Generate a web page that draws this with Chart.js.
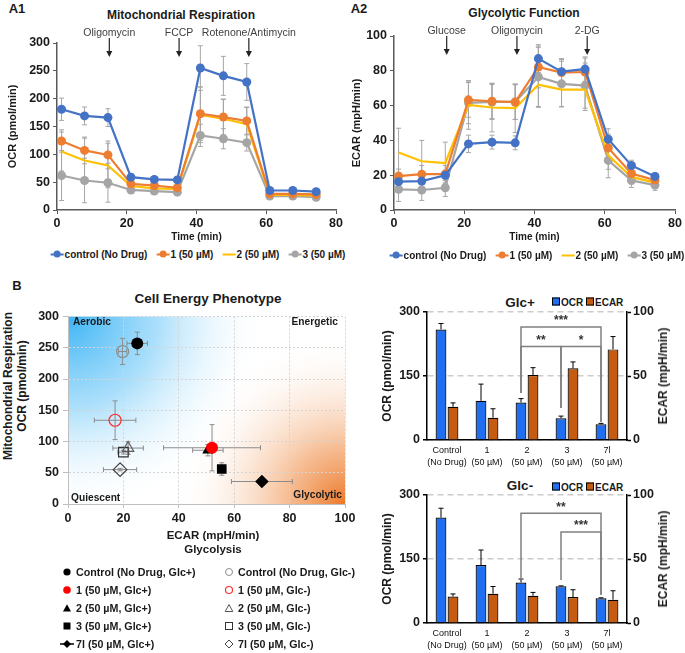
<!DOCTYPE html>
<html>
<head>
<meta charset="utf-8">
<script src="https://cdn.jsdelivr.net/npm/chart.js@4.4.1/dist/chart.umd.min.js"></script>
<style>
  body { margin: 0; background: #fff; }
  #fig { position: relative; width: 685px; height: 653px; overflow: hidden;
         font-family: "Liberation Sans", Arial, sans-serif; color: #1a1a1a; }
  .box { position: absolute; }
  .t { position: absolute; white-space: nowrap; transform: translate(-50%, -50%); font-weight: bold; }
  .tl { position: absolute; white-space: nowrap; transform: translate(0, -50%); font-weight: bold; }
  .tr { position: absolute; white-space: nowrap; transform: translate(-100%, -50%); font-weight: bold; }
  .rot { position: absolute; white-space: nowrap; transform: translate(-50%, -50%) rotate(-90deg);
         font-weight: bold; text-align: center; }
  .lgA { position: absolute; transform: translate(-50%, -50%); display: flex; gap: 9px;
         font-weight: bold; font-size: 10px; white-space: nowrap; align-items: center; }
  .lgA .mk { display: inline-block; width: 13px; height: 7px; position: relative; margin-right: 1px; }
  .lgA .mk::before { content: ''; position: absolute; left: 0; right: 0; top: 2.5px; height: 2px; background: var(--c); }
  .lgA .mk::after { content: ''; position: absolute; left: 3px; top: 0; width: 7px; height: 7px;
                    border-radius: 50%; background: var(--c); }
  .lgA .mk.nodot::after { display: none; }
  .lgB { position: absolute; font-weight: bold; font-size: 10.7px; white-space: nowrap; }
  .lgB div { height: 18px; line-height: 18px; display: flex; align-items: center; }
  .lgB svg { width: 14px; height: 10px; margin-right: 2px; flex: none; }
  .lgC { position: absolute; transform: translate(0, -50%); font-weight: bold; font-size: 10px; white-space: nowrap; }
  .lgC .sq { display: inline-block; width: 6px; height: 6px; border: 1px solid #000; margin-right: 1px; vertical-align: 0px; }
</style>
</head>
<body>
<div id="fig">
  <!-- panel A1 -->
  <div class="t" style="left:17px;top:8px;font-size:13px">A1</div>
  <div class="t" style="left:181px;top:15px;font-size:12px">Mitochondrial Respiration</div>
  <div class="box" style="left:0;top:0"><canvas id="a1" width="345" height="246"></canvas></div>
  <div class="lgA" style="left:198px;top:254px">
    <span><span class="mk" style="--c:#4472C4"></span>control (No Drug)</span>
    <span><span class="mk" style="--c:#ED7D31"></span>1 (50 µM)</span>
    <span><span class="mk nodot" style="--c:#FFC000"></span>2 (50 µM)</span>
    <span><span class="mk" style="--c:#A5A5A5"></span>3 (50 µM)</span>
  </div>

  <!-- panel A2 -->
  <div class="t" style="left:359px;top:8px;font-size:13px">A2</div>
  <div class="t" style="left:524px;top:13px;font-size:12px">Glycolytic Function</div>
  <div class="box" style="left:340px;top:0"><canvas id="a2" width="345" height="246"></canvas></div>
  <div class="lgA" style="left:537px;top:255px">
    <span><span class="mk" style="--c:#4472C4"></span>control (No Drug)</span>
    <span><span class="mk" style="--c:#ED7D31"></span>1 (50 µM)</span>
    <span><span class="mk nodot" style="--c:#FFC000"></span>2 (50 µM)</span>
    <span><span class="mk" style="--c:#A5A5A5"></span>3 (50 µM)</span>
  </div>

  <!-- panel B -->
  <div class="t" style="left:17px;top:285px;font-size:13px">B</div>
  <div class="t" style="left:208px;top:298px;font-size:13.5px">Cell Energy Phenotype</div>
  <div class="rot" style="left:15px;top:386px;font-size:12px;line-height:14px">Mitochondrial Respiration<br>OCR (pmol/min)</div>
  <div class="box" style="left:0;top:305px"><canvas id="pheno" width="360" height="221"></canvas></div>
  <div class="tl" style="left:73px;top:321px;font-size:10.2px">Aerobic</div>
  <div class="tr" style="left:338px;top:321px;font-size:10.2px">Energetic</div>
  <div class="tl" style="left:71px;top:497px;font-size:10.2px">Quiescent</div>
  <div class="tr" style="left:342px;top:494px;font-size:10.2px">Glycolytic</div>
  <div class="t" style="left:213px;top:535px;font-size:11.5px">ECAR (mpH/min)</div>
  <div class="t" style="left:213px;top:549px;font-size:11.5px">Glycolysis</div>
  <div class="lgB" style="left:60px;top:563px">
    <div><svg viewBox="0 0 14 10"><circle cx="7" cy="5" r="3.6" fill="#000"/></svg>Control (No Drug, Glc+)</div>
    <div><svg viewBox="0 0 14 10"><circle cx="7" cy="5" r="3.8" fill="#ff0000"/></svg>1 (50 µM, Glc+)</div>
    <div><svg viewBox="0 0 14 10"><polygon points="7,1.2 11,8.6 3,8.6" fill="#000"/></svg>2 (50 µM, Glc+)</div>
    <div><svg viewBox="0 0 14 10"><rect x="3.5" y="1.5" width="7" height="7" fill="#000"/></svg>3 (50 µM, Glc+)</div>
    <div><svg viewBox="0 0 14 10"><line x1="0" y1="5" x2="14" y2="5" stroke="#000" stroke-width="1.5"/><polygon points="7,1 11,5 7,9 3,5" fill="#000"/></svg>7l (50 µM, Glc+)</div>
  </div>
  <div class="lgB" style="left:222px;top:563px">
    <div><svg viewBox="0 0 14 10"><circle cx="7" cy="5" r="3.5" fill="none" stroke="#8c8c8c" stroke-width="1"/></svg>Control (No Drug, Glc-)</div>
    <div><svg viewBox="0 0 14 10"><circle cx="7" cy="5" r="3.5" fill="none" stroke="#ff3030" stroke-width="1.2"/></svg>1 (50 µM, Glc-)</div>
    <div><svg viewBox="0 0 14 10"><polygon points="7,1.5 10.8,8.5 3.2,8.5" fill="none" stroke="#555" stroke-width="1"/></svg>2 (50 µM, Glc-)</div>
    <div><svg viewBox="0 0 14 10"><rect x="3.5" y="1.5" width="7" height="7" fill="none" stroke="#333" stroke-width="1"/></svg>3 (50 µM, Glc-)</div>
    <div><svg viewBox="0 0 14 10"><polygon points="7,1 11,5 7,9 3,5" fill="none" stroke="#444" stroke-width="1"/></svg>7l (50 µM, Glc-)</div>
  </div>

  <!-- Glc+ bars -->
  <div class="t" style="left:520px;top:302px;font-size:13.5px">Glc+</div>
  <div class="lgC" style="left:552px;top:302px"><span class="sq" style="background:#1f6ff0"></span>OCR <span class="sq" style="background:#c55a11"></span>ECAR</div>
  <div class="box" style="left:375px;top:300px"><canvas id="plus" width="305" height="176"></canvas></div>
  <div class="rot" style="left:663px;top:376px;font-size:12px">ECAR (mpH/min)</div>

  <!-- Glc- bars -->
  <div class="t" style="left:520px;top:485px;font-size:13.5px">Glc-</div>
  <div class="lgC" style="left:552px;top:487px"><span class="sq" style="background:#1f6ff0"></span>OCR <span class="sq" style="background:#c55a11"></span>ECAR</div>
  <div class="box" style="left:375px;top:483px"><canvas id="minus" width="305" height="176"></canvas></div>
  <div class="rot" style="left:663px;top:559px;font-size:12px">ECAR (mpH/min)</div>
</div>

<script>
// ---- A: Seahorse time courses ----
const timeMin = [1.3, 7.9, 14.6, 21.2, 27.9, 34.5, 41.1, 47.7, 54.4, 61.0, 67.6, 74.3];
const seriesNames = ['control (No Drug)', '1 (50 µM)', '2 (50 µM)', '3 (50 µM)'];

const ocrControl = [181, 169, 166, 59, 55, 54, 255, 241, 230, 35, 35, 33];
const ocr1 = [124, 107, 99, 47, 44, 40, 173, 167, 160, 29, 29, 28];
const ocr2 = [105, 89, 80, 43, 39, 38, 171, 164, 154, 27, 27, 26];
const ocr3 = [62, 53, 49, 36, 34, 32, 134, 128, 121, 25, 25, 23];
const ocrControlErr = [20, 16, 16, 6, 5, 5, 40, 35, 33, 4, 4, 4];
const ocr1Err = [20, 24, 25, 8, 6, 5, 48, 32, 25, 4, 3, 3];
const ocr2Err = [35, 40, 40, 8, 6, 5, 50, 35, 30, 4, 3, 3];
const ocr3Err = [45, 40, 35, 6, 5, 5, 20, 18, 15, 3, 3, 3];

const ecarControl = [16.3, 16.6, 20, 38, 39, 38.6, 87, 79.5, 81, 40.7, 25.6, 19.3];
const ecar1 = [19.5, 20.6, 20.6, 63.3, 62.5, 62, 82.2, 79, 79.3, 35.6, 21, 17.2];
const ecar2 = [33, 28, 27, 60.4, 58.9, 58.5, 72, 69.2, 69.2, 31.4, 19, 15.7];
const ecar3 = [11.9, 11.5, 12.8, 61.6, 62.1, 62.1, 76.5, 72.5, 71.5, 28.5, 17, 14.3];
const ecarControlErr = [3, 3, 3, 5, 4, 4, 8, 7, 7, 6, 3, 2];
const ecar1Err = [4, 5, 5, 10, 10, 10, 12, 8, 8, 8, 4, 3];
const ecar2Err = [14, 12, 12, 14, 14, 14, 13, 10, 12, 8, 4, 3];
const ecar3Err = [7, 6, 5, 12, 10, 10, 17, 13, 13, 10, 4, 3];

const mitoInjectTimes = [15, 35, 55];
const mitoInjectNames = ['Oligomycin', 'FCCP', 'Rotenone/Antimycin'];
const glycoInjectTimes = [15, 35, 55];
const glycoInjectNames = ['Glucose', 'Oligomycin', '2-DG'];

// ---- B: energy phenotype (ECAR x, OCR y) ----
const plusEcarB = [25, 52, 50.5, 55.5, 70];
const plusEcarBErr = [3.7, 17.5, 5.5, 1.5, 11];
const plusOcrB = [257, 90, 86, 56, 36];
const plusOcrBErr = [18, 37, 9, 10, 2];
const minusEcarB = [19.7, 17, 21.7, 20, 18.8];
const minusEcarBErr = [1.5, 7.5, 5.5, 2, 6];
const minusOcrB = [244, 134, 89.5, 83, 55];
const minusOcrBErr = [21, 31, 10, 3, 2];

// ---- B: bar charts ----
const barCats = [['Control', '(No Drug)'], ['1', '(50 µM)'], ['2', '(50 µM)'], ['3', '(50 µM)'], ['7l', '(50 µM)']];
const plusOcr = [259, 92, 88, 51, 37];
const plusOcrErr = [14, 39, 9, 5, 2];
const plusEcar = [26, 17.4, 50.8, 56, 70.8];
const plusEcarErr = [3, 7, 5.7, 5, 10];
const minusOcr = [247, 136, 95, 86, 58];
const minusOcrErr = [22, 35, 8, 1, 1];
const minusEcar = [20.7, 22.8, 21.3, 20.3, 18.2];
const minusEcarErr = [2, 5.7, 2.6, 5.7, 7];
// significance brackets: category indexes, bracket level and leg ends in OCR units
const plusSig = [
  { from: 2, to: 4, level: 265, legFrom: 110, legTo: 43, label: '***' },
  { from: 2, to: 3, level: 219, legFrom: 110, legTo: 75, label: '**' },
  { from: 3, to: 4, level: 219, legFrom: 75, legTo: 43, label: '*' }
];
const minusSig = [
  { from: 2, to: 4, level: 257, legFrom: 101, legTo: 66, label: '**' },
  { from: 3, to: 4, level: 213, legFrom: 101, legTo: 66, label: '***' }
];

const lineColors = ['#4472C4', '#ED7D31', '#FFC000', '#A5A5A5'];
const axisGray = '#595959';
const bold = (size) => ({ weight: 'bold', size });

// error bars drawn from dataset.errY / dataset.errX through the chart scales
function drawErrors(chart, o) {
  const ctx = chart.ctx;
  chart.data.datasets.forEach((ds, i) => {
    if (!ds.errY && !ds.errX) return;
    const meta = chart.getDatasetMeta(i);
    const xs = chart.scales[meta.xAxisID], ys = chart.scales[meta.yAxisID];
    ctx.save();
    ctx.strokeStyle = o.color;
    ctx.lineWidth = o.width;
    meta.data.forEach((el, j) => {
      const raw = ds.data[j];
      const yv = typeof raw === 'object' ? raw.y : raw;
      const xv = typeof raw === 'object' ? raw.x : null;
      ctx.beginPath();
      if (ds.errY) {
        const e = ds.errY[j];
        const top = ys.getPixelForValue(yv + e);
        const bot = o.upOnly ? el.y : ys.getPixelForValue(yv - e);
        ctx.moveTo(el.x, top); ctx.lineTo(el.x, bot);
        ctx.moveTo(el.x - o.cap, top); ctx.lineTo(el.x + o.cap, top);
        if (!o.upOnly) { ctx.moveTo(el.x - o.cap, bot); ctx.lineTo(el.x + o.cap, bot); }
      }
      if (ds.errX) {
        const e = ds.errX[j];
        const l = xs.getPixelForValue(xv - e), r = xs.getPixelForValue(xv + e);
        ctx.moveTo(l, el.y); ctx.lineTo(r, el.y);
        ctx.moveTo(l, el.y - o.cap); ctx.lineTo(l, el.y + o.cap);
        ctx.moveTo(r, el.y - o.cap); ctx.lineTo(r, el.y + o.cap);
      }
      ctx.stroke();
    });
    ctx.restore();
  });
}
const errorBars = {
  id: 'errorBars',
  beforeDatasetsDraw(chart, args, o) { if (o.color && o.behind) drawErrors(chart, o); },
  afterDatasetsDraw(chart, args, o) { if (o.color && !o.behind) drawErrors(chart, o); }
};

// injection labels with down arrows
const injections = {
  id: 'injections',
  afterDraw(chart, args, o) {
    if (!o.times) return;
    const { ctx, chartArea } = chart;
    const x = chart.scales.x;
    ctx.save();
    ctx.font = '10.5px "Liberation Sans", Arial, sans-serif';
    ctx.textAlign = 'center';
    ctx.textBaseline = 'middle';
    o.times.forEach((t, k) => {
      const px = x.getPixelForValue(t);
      const y0 = chartArea.top + o.y0, y1 = chartArea.top + o.y1;
      ctx.fillStyle = '#404040';
      ctx.fillText(o.names[k], px, chartArea.top + o.textDy);
      ctx.strokeStyle = '#222';
      ctx.lineWidth = 1.2;
      ctx.beginPath(); ctx.moveTo(px, y0); ctx.lineTo(px, y1 - 5); ctx.stroke();
      ctx.fillStyle = '#222';
      ctx.beginPath(); ctx.moveTo(px - 3, y1 - 6); ctx.lineTo(px + 3, y1 - 6); ctx.lineTo(px, y1); ctx.closePath(); ctx.fill();
    });
    ctx.restore();
  }
};

// significance brackets over the OCR bars
const brackets = {
  id: 'brackets',
  afterDatasetsDraw(chart, args, o) {
    if (!o.items) return;
    const ctx = chart.ctx, y = chart.scales.y, meta = chart.getDatasetMeta(0);
    ctx.save();
    ctx.strokeStyle = '#808080';
    ctx.lineWidth = 1.5;
    ctx.fillStyle = '#333';
    ctx.font = 'bold 12px "Liberation Sans", Arial, sans-serif';
    ctx.textAlign = 'center';
    ctx.textBaseline = 'middle';
    o.items.forEach(b => {
      const xa = meta.data[b.from].x, xb = meta.data[b.to].x;
      const yl = y.getPixelForValue(b.level);
      ctx.beginPath();
      ctx.moveTo(xa, y.getPixelForValue(b.legFrom));
      ctx.lineTo(xa, yl); ctx.lineTo(xb, yl);
      ctx.lineTo(xb, y.getPixelForValue(b.legTo));
      ctx.stroke();
      ctx.fillText(b.label, (xa + xb) / 2, yl - 6);
    });
    ctx.restore();
  }
};

// blue / orange corner shading of the phenotype plot
const quadrantBg = {
  id: 'quadrantBg',
  beforeDraw(chart, args, o) {
    if (!o.on) return;
    const { ctx, chartArea: a } = chart;
    ctx.save();
    ctx.fillStyle = '#fff';
    ctx.fillRect(a.left, a.top, a.width, a.height);
    const gb = ctx.createRadialGradient(a.left, a.top, 0, a.left, a.top, 200);
    gb.addColorStop(0, 'rgba(60,180,245,1)');
    gb.addColorStop(0.45, 'rgba(150,215,250,0.8)');
    gb.addColorStop(1, 'rgba(255,255,255,0)');
    ctx.fillStyle = gb;
    ctx.fillRect(a.left, a.top, a.width, a.height);
    const go = ctx.createRadialGradient(a.right, a.bottom, 0, a.right, a.bottom, 170);
    go.addColorStop(0, 'rgba(236,120,40,1)');
    go.addColorStop(0.35, 'rgba(244,175,125,0.8)');
    go.addColorStop(1, 'rgba(255,255,255,0)');
    ctx.fillStyle = go;
    ctx.fillRect(a.left, a.top, a.width, a.height);
    ctx.restore();
  }
};

Chart.defaults.font.family = '"Liberation Sans", Arial, sans-serif';
Chart.defaults.color = '#1a1a1a';
Chart.defaults.animation = false;
Chart.defaults.responsive = false;
Chart.defaults.devicePixelRatio = 1;
Chart.defaults.plugins.legend.display = false;
Chart.defaults.plugins.tooltip.enabled = false;
Chart.register(errorBars, injections, brackets, quadrantBg);

function lineChart(id, values, errors, yMax, yStep, yTitle, inject, pad) {
  const datasets = values.map((v, k) => ({
    label: seriesNames[k],
    data: timeMin.map((t, i) => ({ x: t, y: v[i] })),
    errY: errors[k],
    borderColor: lineColors[k],
    backgroundColor: lineColors[k],
    borderWidth: 2.2,
    pointRadius: k === 2 ? 0 : 4.5,
    pointBorderWidth: 0,
    tension: 0
  }));
  return new Chart(document.getElementById(id), {
    type: 'line',
    data: { datasets },
    options: {
      layout: { padding: { top: pad.top, right: pad.right, left: 0, bottom: 0 } },
      scales: {
        x: {
          type: 'linear', min: 0, max: 80,
          ticks: { stepSize: 20, font: bold(12.5), padding: 2, maxRotation: 0, color: '#1a1a1a' },
          grid: { drawOnChartArea: false, tickLength: 4, tickColor: axisGray },
          border: { color: axisGray, width: 1.5 },
          title: { display: true, text: 'Time (min)', font: bold(10), padding: { top: 0, bottom: 3 } },
          afterFit: s => { s.height = 36; }
        },
        y: {
          min: 0, max: yMax,
          ticks: { stepSize: yStep, font: bold(12.5), padding: 3, color: '#1a1a1a' },
          grid: { drawOnChartArea: false, tickLength: 4, tickColor: axisGray },
          border: { color: axisGray, width: 1.5 },
          title: { display: true, text: yTitle, font: bold(11), padding: { top: pad.titleTop, bottom: 0 } },
          afterFit: s => { s.width = pad.left; }
        }
      },
      plugins: {
        errorBars: { color: '#a6a6a6', width: 1, cap: 2.5, behind: true },
        injections: inject
      }
    }
  });
}

lineChart('a1', [ocrControl, ocr1, ocr2, ocr3], [ocrControlErr, ocr1Err, ocr2Err, ocr3Err],
  300, 50, 'OCR (pmol/min)',
  { times: mitoInjectTimes, names: mitoInjectNames, textDy: -10, y0: -5, y1: 14 },
  { top: 43, right: 8, left: 57, titleTop: 6 });

lineChart('a2', [ecarControl, ecar1, ecar2, ecar3], [ecarControlErr, ecar1Err, ecar2Err, ecar3Err],
  100, 20, 'ECAR (mpH/min)',
  { times: glycoInjectTimes, names: glycoInjectNames, textDy: -5, y0: 0, y1: 19 },
  { top: 36, right: 10, left: 54, titleTop: 10 });

// phenotype scatter
const phenoStyles = ['circle', 'circle', 'triangle', 'rect', 'rectRot'];
const phenoRadius = [6, 6, 6.5, 6.8, 6.8];
const plusFill = ['#000', '#ff0000', '#000', '#000', '#000'];
const minusStroke = ['#8c8c8c', '#ff3030', '#595959', '#333', '#404040'];
const phenoSets = [];
plusEcarB.forEach((x, k) => {
  phenoSets.push({
    data: [{ x, y: plusOcrB[k] }], errX: [plusEcarBErr[k]], errY: [plusOcrBErr[k]],
    pointStyle: phenoStyles[k], pointRadius: phenoRadius[k],
    backgroundColor: plusFill[k], borderColor: plusFill[k], borderWidth: 0
  });
});
minusEcarB.forEach((x, k) => {
  phenoSets.push({
    data: [{ x, y: minusOcrB[k] }], errX: [minusEcarBErr[k]], errY: [minusOcrBErr[k]],
    pointStyle: phenoStyles[k], pointRadius: phenoRadius[k],
    backgroundColor: 'rgba(0,0,0,0)', borderColor: minusStroke[k], borderWidth: 1.2
  });
});
new Chart(document.getElementById('pheno'), {
  type: 'scatter',
  data: { datasets: phenoSets },
  options: {
    layout: { padding: { top: 7, right: 15, left: 0, bottom: 0 } },
    scales: {
      x: {
        min: 0, max: 100,
        ticks: { stepSize: 20, font: bold(12.5), padding: 3, maxRotation: 0, color: '#1a1a1a' },
        grid: { color: '#d4d4d4', tickLength: 4, tickColor: '#bfbfbf' },
        border: { color: '#bfbfbf', width: 1, dash: [2, 2] },
        afterFit: s => { s.height = 22; }
      },
      y: {
        min: 0, max: 300,
        ticks: { stepSize: 50, font: bold(12.5), padding: 4, color: '#1a1a1a' },
        grid: { color: '#d4d4d4', tickLength: 5, tickColor: '#bfbfbf' },
        border: { color: '#bfbfbf', width: 1, dash: [2, 2] },
        afterFit: s => { s.width = 68; }
      }
    },
    plugins: {
      quadrantBg: { on: true },
      errorBars: { color: '#8c8c8c', width: 1, cap: 2.5, behind: true }
    }
  }
});

function barChart(id, ocr, ocrErr, ecar, ecarErr, sig) {
  return new Chart(document.getElementById(id), {
    type: 'bar',
    data: {
      labels: barCats,
      datasets: [
        { label: 'OCR', data: ocr, errY: ocrErr, yAxisID: 'y', backgroundColor: '#1f6ff0',
          borderColor: '#000', borderWidth: 1.2, barPercentage: 0.9, categoryPercentage: 0.6 },
        { label: 'ECAR', data: ecar, errY: ecarErr, yAxisID: 'y2', backgroundColor: '#c55a11',
          borderColor: '#000', borderWidth: 1.2, barPercentage: 0.9, categoryPercentage: 0.6 }
      ]
    },
    options: {
      layout: { padding: { top: 12, right: 0, left: 0, bottom: 0 } },
      scales: {
        x: {
          ticks: { font: { size: 9, lineHeight: 1.33 }, padding: -3, maxRotation: 0, autoSkip: false, color: '#111' },
          grid: { display: false },
          border: { color: '#000', width: 1.5 },
          afterFit: s => { s.height = 36; }
        },
        y: {
          position: 'left', min: 0, max: 300,
          ticks: { stepSize: 150, font: bold(12.5), padding: 3, color: '#1a1a1a' },
          grid: { color: '#cccccc', lineWidth: 1.5, tickLength: 4, tickColor: '#000', tickWidth: 1.5 },
          border: { color: '#000', width: 1.5, dash: [6, 4] },
          title: { display: true, text: 'OCR (pmol/min)', font: bold(12), padding: { top: 5, bottom: 0 } },
          afterFit: s => { s.width = 52; }
        },
        y2: {
          position: 'right', min: 0, max: 100,
          ticks: { stepSize: 50, font: bold(12.5), padding: 2, color: '#1a1a1a' },
          grid: { drawOnChartArea: false, tickLength: 4, tickColor: '#000', tickWidth: 1.5 },
          border: { color: '#000', width: 1.5 },
          afterFit: s => { s.width = 53; }
        }
      },
      plugins: {
        errorBars: { color: '#000', width: 1, cap: 2.5, upOnly: true },
        brackets: { items: sig }
      }
    }
  });
}

barChart('plus', plusOcr, plusOcrErr, plusEcar, plusEcarErr, plusSig);
barChart('minus', minusOcr, minusOcrErr, minusEcar, minusEcarErr, minusSig);
</script>
</body>
</html>
